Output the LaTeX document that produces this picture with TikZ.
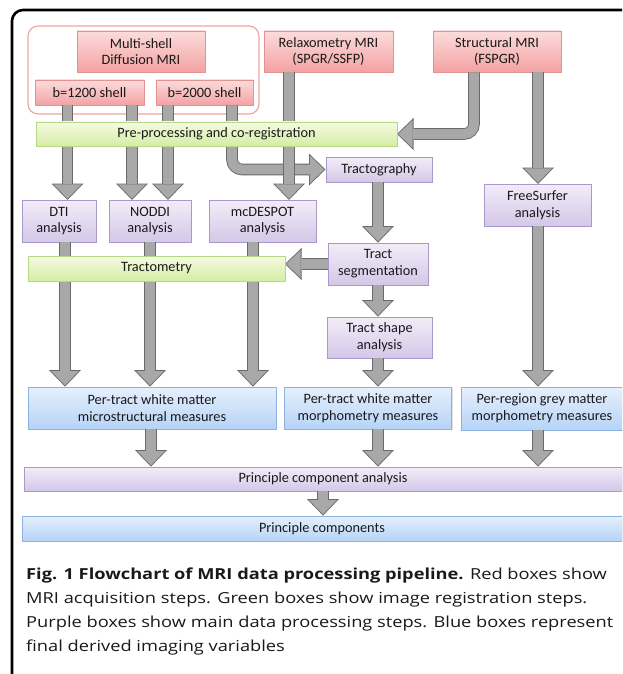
\documentclass[tikz,border=0pt]{standalone}
\usepackage{fontspec}
\setmainfont{Carlito}
\newfontfamily\capfont[FakeStretch=1.2]{Open Sans}
\usetikzlibrary{arrows.meta,shadows}

\definecolor{redtop}{HTML}{FCDCDC}
\definecolor{redbot}{HTML}{F3A2A2}
\definecolor{rededge}{HTML}{E39191}
\definecolor{groupedge}{HTML}{EDA7A7}
\definecolor{greentop}{HTML}{F5FBE2}
\definecolor{greenbot}{HTML}{D4EDA4}
\definecolor{greenedge}{HTML}{B8D888}
\definecolor{purpletop}{HTML}{F2EDF8}
\definecolor{purplebot}{HTML}{D4C7E8}
\definecolor{purpleedge}{HTML}{A998CA}
\definecolor{bluetop}{HTML}{E5F0FD}
\definecolor{bluebot}{HTML}{B6D3F6}
\definecolor{blueedge}{HTML}{8CB2DF}
\definecolor{arrowfill}{HTML}{A8A8A8}
\definecolor{arrowedge}{HTML}{6A6A6A}

% fat grey arrow: dark outline first, grey body on top
\newcommand{\fatarrow}[1]{\draw[fatedge] #1; \draw[fatfill] #1;}

\begin{document}
\begin{tikzpicture}[x=1pt, y=-1pt, font=\fontsize{14.3}{16.8}\selectfont,
    box/.style={draw, rectangle, align=center, inner sep=2pt, line width=0.8pt, text=black!90,
                drop shadow={shadow xshift=1pt, shadow yshift=-1pt, opacity=0.25}},
    redbox/.style={box, draw=rededge, top color=redtop, bottom color=redbot},
    greenbox/.style={box, draw=greenedge, top color=greentop, bottom color=greenbot},
    purplebox/.style={box, draw=purpleedge, top color=purpletop, bottom color=purplebot},
    bluebox/.style={box, draw=blueedge, top color=bluetop, bottom color=bluebot},
    groupbox/.style={draw=groupedge, line width=1.2pt, rounded corners=10pt, fill=white},
    fatedge/.style={draw=arrowedge, line width=11.6pt,
                    -{Triangle[width=32pt, length=16.5pt, line width=0pt]}},
    fatfill/.style={draw=arrowfill, line width=9.8pt, shorten >=1.3pt,
                    -{Triangle[width=27.7pt, length=14.3pt, line width=0pt]}}]

    \useasboundingbox (0,0) rectangle (622,674);
    \clip (0,0) rectangle (622,674);

    % outer frame
    \draw[line width=2.6pt, rounded corners=11pt] (12,700) -- (12,10) -- (700,10);

    % acquisition
    \node[groupbox, minimum width=231pt, minimum height=88pt] (diffusion) at (143.5,70) {};
    \node[redbox, minimum width=128pt, minimum height=41pt] (multishell) at (141,51.5) {Multi-shell\\Diffusion MRI};
    \node[redbox, minimum width=109pt, minimum height=25pt] (b1200) at (89.5,92.5) {b=1200 shell};
    \node[redbox, minimum width=97pt, minimum height=25pt] (b2000) at (204.5,92.5) {b=2000 shell};
    \node[redbox, minimum width=129pt, minimum height=41pt] (relax) at (328.5,51.5) {Relaxometry MRI\\(SPGR/SSFP)};
    \node[redbox, minimum width=128pt, minimum height=41pt] (struct) at (497,51.5) {Structural MRI\\(FSPGR)};

    % arrows
    \fatarrow{(b1200.south -| 67.5,0) -- (67.5,200)}
    \fatarrow{(b1200.south -| 132,0) -- (132,200)}
    \fatarrow{(b2000.south -| 168,0) -- (168,200)}
    \fatarrow{(b2000.south -| 232,0) [rounded corners=10pt] |- (325.5,169.5)}
    \fatarrow{(relax.south -| 289,0) -- (289,200)}
    \fatarrow{(struct.south -| 474,0) [rounded corners=10pt] |- (397,134)}
    \fatarrow{(struct.south -| 538,0) -- (538,184)}

    \node[greenbox, minimum width=361pt, minimum height=24pt] (prep) at (216.5,134) {Pre-processing and co-registration};

    \node[purplebox, minimum width=74pt, minimum height=42pt] (dti) at (59,221) {DTI\\analysis};
    \node[purplebox, minimum width=82pt, minimum height=42pt] (noddi) at (150,221) {NODDI\\analysis};
    \node[purplebox, minimum width=107pt, minimum height=42pt] (mcdespot) at (262.5,221) {mcDESPOT\\analysis};
    \node[purplebox, minimum width=106pt, minimum height=25pt] (tracto) at (379,169.5) {Tractography};
    \node[purplebox, minimum width=107pt, minimum height=42pt] (freesurfer) at (537.5,205) {FreeSurfer\\analysis};
    \node[purplebox, minimum width=100pt, minimum height=42pt] (tractseg) at (378,264) {Tract\\segmentation};
    \node[purplebox, minimum width=105pt, minimum height=41pt] (tractshape) at (379.5,337.5) {Tract shape\\analysis};

    \node[bluebox, minimum width=248pt, minimum height=42pt] (micro) at (152,408) {Per-tract white matter\\microstructural measures};
    \node[bluebox, minimum width=167pt, minimum height=42pt] (morph) at (368,408) {Per-tract white matter\\morphometry measures};
    \node[bluebox, minimum width=162pt, minimum height=43pt] (grey) at (542,408.5) {Per-region grey matter\\morphometry measures};
    \node[purplebox, minimum width=598pt, minimum height=24pt] (pca) at (323,479) {Principle component analysis};
    \node[bluebox, minimum width=600pt, minimum height=25pt] (pcs) at (322,528.5) {Principle components};

    \fatarrow{(dti.south -| 65,0) -- (micro.north -| 65,0)}
    \fatarrow{(noddi.south -| 150,0) -- (micro.north -| 150,0)}
    \fatarrow{(mcdespot.south -| 253,0) -- (micro.north -| 253,0)}
    \fatarrow{(tracto.south -| 378,0) -- (tractseg.north -| 378,0)}
    \fatarrow{(tractseg.west) -- (tractseg.west -| 285,0)}
    \fatarrow{(tractseg.south) -- (tractshape.north -| tractseg.south)}
    \fatarrow{(tractshape.south -| 378,0) -- (morph.north -| 378,0)}
    \fatarrow{(freesurfer.south -| 538,0) -- (grey.north -| 538,0)}
    \fatarrow{(micro.south -| 151,0) -- (pca.north -| 151,0)}
    \fatarrow{(morph.south -| 378,0) -- (pca.north -| 378,0)}
    \fatarrow{(grey.south -| 538,0) -- (pca.north -| 538,0)}
    \fatarrow{(pca.south -| 323,0) -- (pcs.north -| 323,0)}

    \node[greenbox, minimum width=257pt, minimum height=25pt] (tractometry) at (156.5,268.5) {Tractometry};

    % caption
    \node[anchor=north west, align=left, inner sep=0pt, text=black!90,
          font=\capfont\fontsize{15.2}{23.8}\selectfont] (caption) at (26,568)
      {\textbf{Fig. 1 Flowchart of MRI data processing pipeline.} Red boxes show\\
       MRI acquisition steps. Green boxes show image registration steps.\\
       Purple boxes show main data processing steps. Blue boxes represent\\
       final derived imaging variables};
\end{tikzpicture}
\end{document}
